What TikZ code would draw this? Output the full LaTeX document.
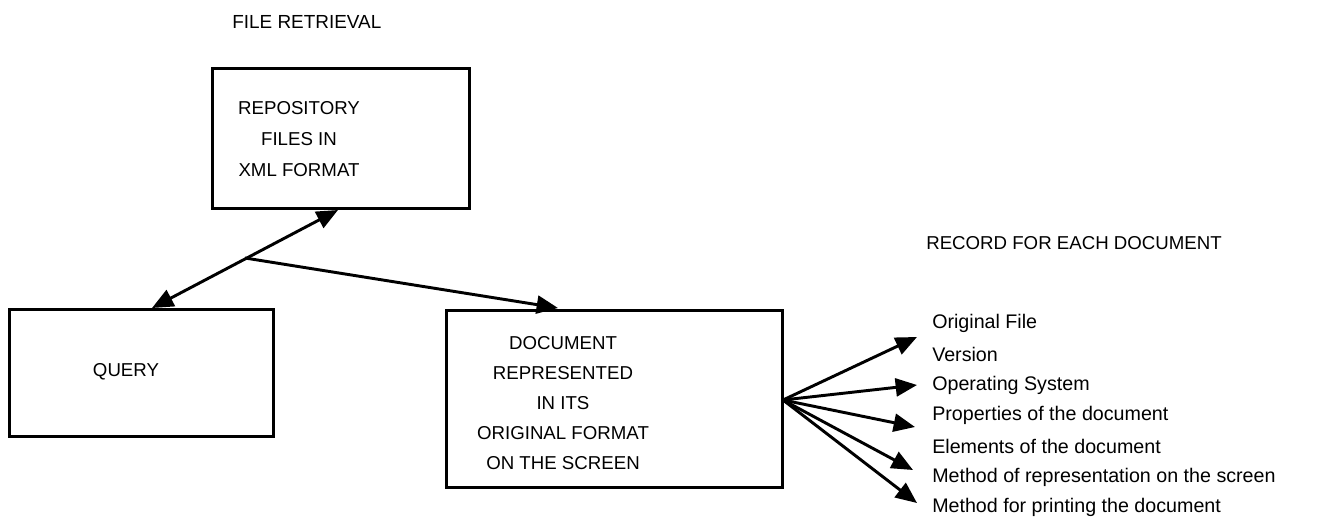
\documentclass[tikz,border=0pt]{standalone}
\usepackage{fontspec}
\setmainfont{Liberation Sans}
\usetikzlibrary{arrows.meta}
\begin{document}
\begin{tikzpicture}
[x=0.75pt,y=-0.75pt,
  boxdecorate/.style={shape=rectangle,draw,line width=2.25pt,inner sep=0pt},%
  textdecorate/.style={font=\fontsize{14}{23}\selectfont,inner sep=0pt,align=center},%
  itemdecorate/.style={font=\fontsize{14}{23}\selectfont,inner sep=0pt,anchor=west},%
  linedecorate/.style={line width=2.2pt,-{Triangle[length=16pt,width=13.5pt]}}]
\useasboundingbox (0,0) rectangle (1317,517);
%% boxes
\node (repo) at (341,138.5) [boxdecorate,minimum width=192.75pt,minimum height=105pt] {};
\node (query) at (141.5,373) [boxdecorate,minimum width=198pt,minimum height=95.25pt] {};
\node (doc) at (614.5,399) [boxdecorate,minimum width=252pt,minimum height=132.75pt] {};
%% box texts
\node (repotext) at (299,139) [textdecorate] {REPOSITORY\\FILES IN\\XML FORMAT};
\node (querytext) at (126,372) [textdecorate] {QUERY};
\node (doctext) at (563,403) [textdecorate,font=\fontsize{14}{22.5}\selectfont]
  {DOCUMENT\\REPRESENTED\\IN ITS\\ORIGINAL FORMAT\\ON THE SCREEN};
%% headings
\node (retrieval) at (232,22) [itemdecorate,font=\fontsize{14.2}{23}\selectfont] {FILE RETRIEVAL};
\node (record) at (926,243) [itemdecorate] {RECORD FOR EACH DOCUMENT};
%% record list
\foreach \itemname/\y/\itemtext in {i1/323/Original File, i2/354/Version,
  i3/385/Operating System, i4/415/Properties of the document,
  i5/446/Elements of the document, i6/477/Method of representation on the screen,
  i7/507/Method for printing the document} {
  \node (\itemname) at (932,\y) [itemdecorate,font=\fontsize{14.75}{23}\selectfont] {\itemtext};
}
%% connector ends
\coordinate (qtip) at (152,308);
\coordinate (rtip) at (338,210);
\coordinate (fork) at (245,258);
\coordinate (dtip) at (558,308);
\coordinate (fan) at (783,400);
\foreach \tipname/\x/\y in {t1/917/337, t2/917/385, t3/915/427, t4/913/470,
  t5/917/503} {
  \coordinate (\tipname) at (\x,\y);
}
%% arrows
\draw[linedecorate,{Triangle[length=16pt,width=13.5pt]}-{Triangle[length=16pt,width=13.5pt]}] (qtip) -- (rtip);
\draw[linedecorate] (fork) -- (dtip);
\foreach \endnode in {t1, t2, t3, t4, t5} {
  \draw[linedecorate] (fan) -- (\endnode);
}
\end{tikzpicture}
\end{document}
